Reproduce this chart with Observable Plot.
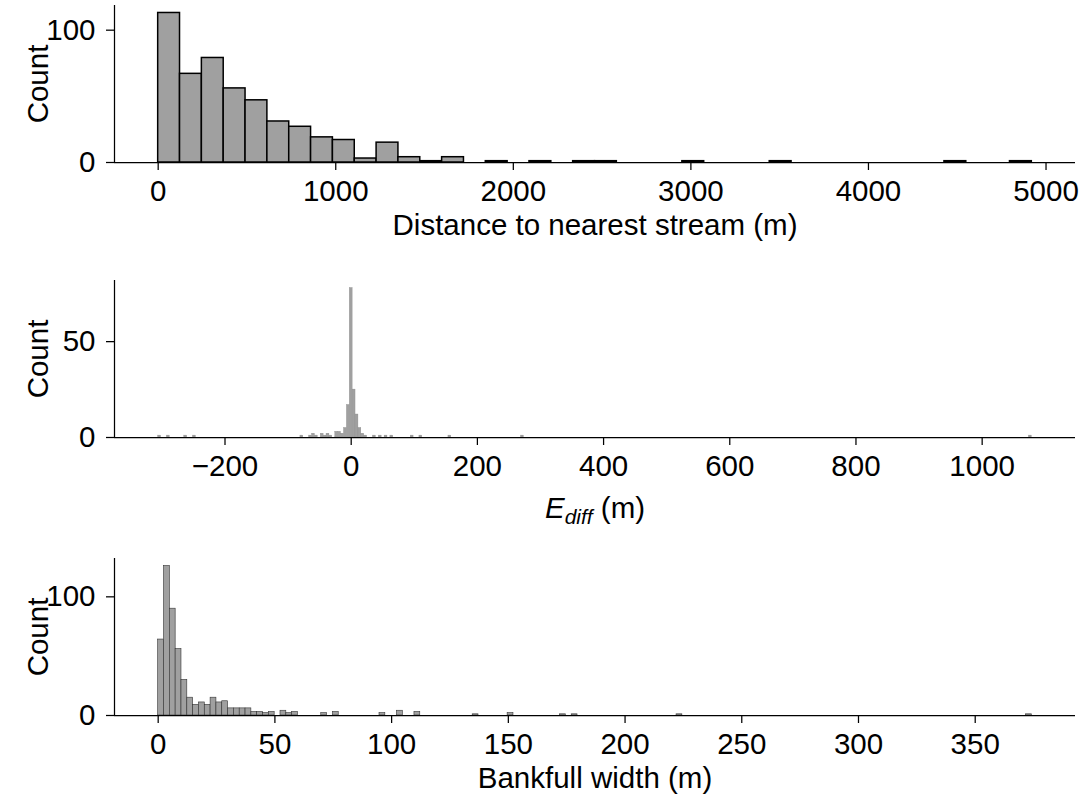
<!DOCTYPE html>
<html><head><meta charset="utf-8">
<script src="https://cdn.jsdelivr.net/npm/d3@7"></script>
<script src="https://cdn.jsdelivr.net/npm/@observablehq/plot@0.6"></script>
<style>body{margin:0;background:#fff;} svg{display:block}</style>
</head><body><div id="chart"></div>
<script>
// Panel 1: distance to nearest stream (m), 40 bins starting at 0
const streamBinWidth = 123;
const streamCounts = [113,67,79,56,47,31,27,19,17,3,15,4,1,4,0,1,0,1,0,1,1,0,0,0,1,0,0,0,1,0,0,0,0,0,0,0,1,0,0,1];
const streamTicks = [0,1000,2000,3000,4000,5000];
const streamCountTicks = [0,100];

// Panel 2: E_diff (m), bins centred on multiples of the bin width
const ediffBinWidth = 4.6;
const ediffBinIndex = [-66,-63,-57,-54,-17,-14,-13,-12,-10,-9,-8,-7,-5,-4,-3,-2,-1,0,1,2,3,4,5,8,10,12,14,21,24,34,59,234];
const ediffCounts   = [1,1,1,1,1,1,2,1,2,1,2,1,3,3,2,5,17,78,25,12,5,2,1,1,1,1,1,1,1,1,1,1];
const ediffTicks = [-200,0,200,400,600,800,1000];
const ediffCountTicks = [0,50];

// Panel 3: bankfull width (m), bins starting at 0
const bankfullBinWidth = 2.495;
const bankfullBinIndex = [0,1,2,3,4,5,6,7,8,9,10,11,12,13,14,15,16,17,18,19,21,22,23,28,30,38,41,44,54,60,69,71,89,149];
const bankfullCounts   = [64,126,90,56,30,15,9,11,9,15,11,12,6,6,6,6,3,3,2,3,4,2,3,2,3,2,4,3,1,2,1,1,1,1];
const bankfullTicks = [0,50,100,150,200,250,300,350];
const bankfullCountTicks = [0,100];

const streamBins = streamCounts.map((c, i) => ({x1: i*streamBinWidth, x2: (i+1)*streamBinWidth, count: c}));
const ediffBins = ediffBinIndex.map((j, i) => ({x1: (j-0.5)*ediffBinWidth, x2: (j+0.5)*ediffBinWidth, count: ediffCounts[i]}));
const bankfullBins = bankfullBinIndex.map((j, i) => ({x1: j*bankfullBinWidth, x2: (j+1)*bankfullBinWidth, count: bankfullCounts[i]}));

const FONT = '"Liberation Sans", Arial, Helvetica, sans-serif';

function hist({bins, xLabel, xTicks, yTicks, height, marginTop, marginBottom, stroke, strokeWidth, labelOffset}) {
  const lo = d3.min(bins, d => d.x1), hi = d3.max(bins, d => d.x2);
  const pad = (hi - lo) * 0.05;
  const ymax = d3.max(bins, d => d.count) * 1.05;
  return Plot.plot({
    width: 1088, height, marginLeft: 114, marginRight: 13, marginTop, marginBottom,
    style: {fontFamily: FONT, fontSize: "29.5px", color: "#000", background: "#fff", overflow: "visible"},
    x: {domain: [lo - pad, hi + pad]},
    y: {domain: [0, ymax]},
    marks: [
      Plot.rectY(bins.filter(d => d.count > 0), {x1: "x1", x2: "x2", y: "count", fill: "#a0a0a0", stroke, strokeWidth}),
      Plot.ruleY([0], {stroke: "#000", strokeWidth: 1.25}),
      Plot.ruleX([lo - pad], {stroke: "#000", strokeWidth: 1.25}),
      Plot.axisX({ticks: xTicks, tickSize: 8, tickPadding: 10, strokeWidth: 1.25, tickFormat: d3.format("d"),
        label: xLabel, labelAnchor: "center", labelOffset, labelArrow: "none"}),
      Plot.axisY({ticks: yTicks, tickSize: 8, tickPadding: 11, strokeWidth: 1.25, tickFormat: d3.format("d"),
        label: "Count", labelAnchor: "center", labelOffset: 87, labelArrow: "none"})
    ]
  });
}

const chart = document.getElementById("chart");
chart.append(hist({bins: streamBins, xLabel: "Distance to nearest stream (m)", xTicks: streamTicks, yTicks: streamCountTicks,
  height: 270, marginTop: 5, marginBottom: 108, stroke: "#000", strokeWidth: 1.5, labelOffset: 72}));
const p2 = hist({bins: ediffBins, xLabel: "E_diff (m)", xTicks: ediffTicks, yTicks: ediffCountTicks,
  height: 278, marginTop: 10, marginBottom: 111, stroke: "#888", strokeWidth: 0.3, labelOffset: 80});
chart.append(p2);
chart.append(hist({bins: bankfullBins, xLabel: "Bankfull width (m)", xTicks: bankfullTicks, yTicks: bankfullCountTicks,
  height: 252, marginTop: 10, marginBottom: 85, stroke: "#333", strokeWidth: 0.6, labelOffset: 72}));

// italic E with subscript "diff"
for (const t of p2.querySelectorAll("text")) {
  if (t.textContent === "E_diff (m)") {
    t.textContent = "";
    const ns = "http://www.w3.org/2000/svg";
    const a = document.createElementNS(ns, "tspan"); a.setAttribute("font-style", "italic"); a.textContent = "E";
    const b = document.createElementNS(ns, "tspan"); b.setAttribute("font-style", "italic"); b.setAttribute("font-size", "21px"); b.setAttribute("dy", "6"); b.textContent = "diff";
    const c = document.createElementNS(ns, "tspan"); c.setAttribute("dy", "-6"); c.textContent = " (m)";
    t.append(a, b, c);
  }
}
</script></body></html>
